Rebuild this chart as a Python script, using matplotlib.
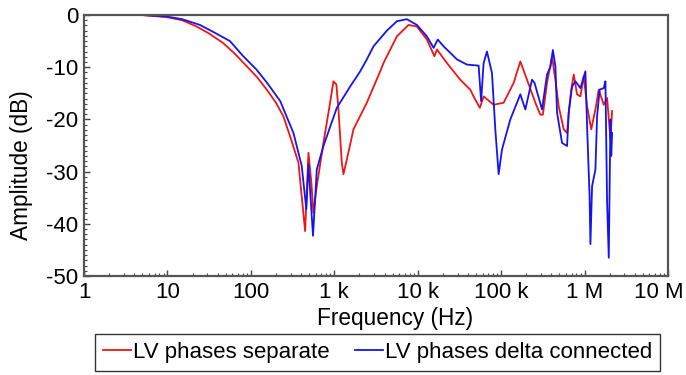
import matplotlib
matplotlib.use("Agg")
import matplotlib.pyplot as plt
from matplotlib.ticker import FixedLocator, LogLocator, NullFormatter, MultipleLocator
import matplotlib.transforms as mtransforms

plt.rcParams['font.family'] = ['Liberation Sans', 'DejaVu Sans']
plt.rcParams['axes.unicode_minus'] = False

red_f = [4.9, 9.8, 15, 22.4, 32, 46.8, 65, 89, 120, 155,
         200, 245, 295, 372, 447, 490, 531, 562, 617, 741,
         891, 977, 1059, 1122, 1230, 1288, 1413, 1698, 2455, 3548,
         3890, 5623, 7762, 9772, 12880, 15850, 16980, 22390, 32360, 42660,
         46770, 55590, 61660, 81280, 107200, 141300, 169800, 204200, 257000, 295100,
         316200, 354800, 407400, 446700, 489800, 562300, 616600, 645700, 691800, 741300,
         812800, 891300, 977200, 1072000, 1202000, 1349000, 1479000, 1698000, 1862000, 2042000,
         2138000]
red_db = [0, -0.4, -1.0, -2.2, -3.6, -5.4, -7.5, -9.8, -12.0, -14.3,
          -16.8, -19.4, -23.2, -28.3, -41.4, -26.4, -32.1, -37.9, -32.8, -24.5,
          -16.8, -12.7, -13.3, -18.1, -28.3, -30.5, -27.7, -21.9, -16.8, -10.8,
          -9.2, -4.1, -1.9, -2.2, -4.7, -7.9, -6.6, -9.2, -12.4, -14.3,
          -15.6, -17.8, -15.6, -17.2, -16.8, -13.0, -8.9, -12.4, -16.8, -19.1,
          -19.1, -13.0, -8.0, -12.4, -17.5, -21.9, -22.6, -18.7, -14.3, -11.4,
          -15.2, -15.6, -11.7, -17.5, -21.9, -18.1, -14.3, -17.2, -15.9, -23.8,
          -18.4]

blue_f = [4.9, 9.8, 15, 24.5, 35, 56.2, 80, 117.5, 160, 225,
          324, 407, 462, 490, 556, 617, 741, 1072, 1549, 2042,
          2455, 2951, 4266, 5623, 7413, 9772, 12880, 15490, 17380, 20420,
          29510, 38900, 53700, 57540, 61660, 67610, 77620, 85110, 93330, 102300,
          128800, 169800, 195000, 234400, 251200, 309000, 354800, 389000, 416900, 446700,
          467700, 537000, 616600, 645700, 707900, 776200, 891300, 1023000, 1072000, 1148000,
          1175000, 1230000, 1349000, 1413000, 1514000, 1698000, 1778000, 1862000, 1950000, 2042000,
          2089000, 2138000]
blue_db = [0, -0.3, -0.8, -1.9, -3.2, -5.0, -7.8, -10.5, -13.2, -16.5,
           -22.6, -28.9, -37.2, -28.6, -42.3, -29.6, -25.1, -17.8, -13.7, -10.8,
           -8.5, -6.0, -3.0, -1.2, -0.8, -1.9, -4.1, -6.3, -4.7, -6.0,
           -8.5, -9.5, -9.7, -16.5, -9.2, -7.0, -11.1, -21.9, -30.5, -25.8,
           -20.0, -15.2, -18.1, -12.4, -13.0, -18.1, -11.4, -10.0, -6.7, -9.8,
           -18.7, -24.5, -25.1, -18.7, -13.7, -12.7, -14.0, -10.8, -21.3, -34.7,
           -43.9, -32.8, -29.6, -19.4, -14.3, -14.0, -12.7, -35.9, -46.5, -20.0,
           -27.0, -22.6]

x_ticks = [1, 10, 100, 1e3, 1e4, 1e5, 1e6, 1e7]
x_labels = ["1", "10", "100", "1 k", "10 k", "100 k", "1 M", "10 M"]
y_ticks = [0, -10, -20, -30, -40, -50]
y_labels = ["0", "-10", "-20", "-30", "-40", "-50"]
series_names = ["LV phases separate", "LV phases delta connected"]

fig = plt.figure(figsize=(6.86, 3.75), dpi=100)
ax = fig.add_axes([84/686, 1-276/375, (668-84)/686, (276-15)/375])

ax.plot(red_f, red_db, color='#f01414', lw=1.3, label=series_names[0])
ax.plot(blue_f, blue_db, color='#1414f0', lw=1.3, label=series_names[1])

ax.set_xscale('log')
ax.set_xlim(1, 1e7)
ax.set_ylim(-50, 0)
ax.xaxis.set_major_locator(FixedLocator(x_ticks))
ax.set_xticklabels(x_labels)
ax.xaxis.set_minor_locator(LogLocator(base=10, subs=range(2, 10), numticks=50))
ax.xaxis.set_minor_formatter(NullFormatter())
ax.set_yticks(y_ticks)
ax.set_yticklabels(y_labels)
ax.yaxis.set_minor_locator(MultipleLocator(1))

ax.tick_params(which='both', direction='in', top=False, right=False, labelsize=16)
ax.tick_params(axis='x', pad=4)
ax.tick_params(axis='y', pad=4)
ax.tick_params(which='major', length=4, width=1, color='#444444')
ax.tick_params(which='minor', length=2, width=0.8, color='#444444')
for s in ax.spines.values():
    s.set_linewidth(1.6)
    s.set_color('#555555')

# nudge last x tick label so it stays inside the canvas
last = ax.get_xticklabels()[-1]
last.set_transform(last.get_transform() + mtransforms.ScaledTranslation(-9/100, 0, fig.dpi_scale_trans))

ax.set_xlabel("Frequency (Hz)", fontsize=16.3)
ax.xaxis.set_label_coords((395.5-84)/584, (276-307)/261)
ax.set_ylabel("Amplitude (dB)", fontsize=16.3)
ax.yaxis.set_label_coords((33-84)/584, 1-(165-15)/261)

leg = fig.legend(loc='upper left', bbox_to_anchor=(95/686, 1-334/375), ncol=2,
                 fontsize=16, frameon=True, fancybox=False, edgecolor='black',
                 handlelength=1.25, handletextpad=0.1, columnspacing=1.15,
                 borderpad=0.35, borderaxespad=0)
leg.get_frame().set_linewidth(1.0)

fig.savefig("out.png", dpi=100)
